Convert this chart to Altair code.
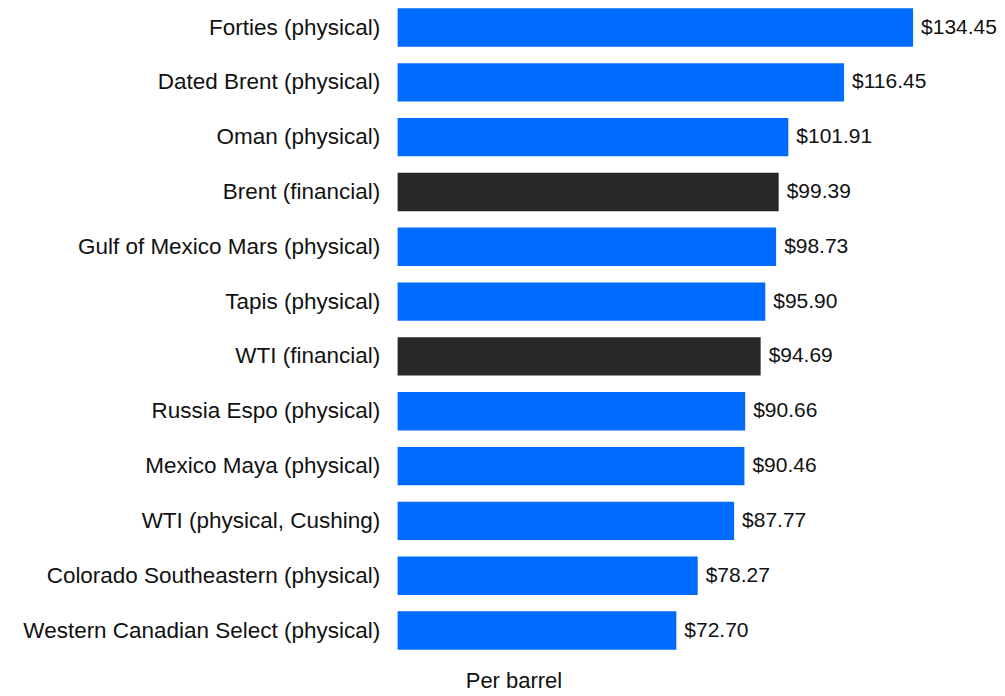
import altair as alt
import pandas as pd

names = [
    "Forties (physical)",
    "Dated Brent (physical)",
    "Oman (physical)",
    "Brent (financial)",
    "Gulf of Mexico Mars (physical)",
    "Tapis (physical)",
    "WTI (financial)",
    "Russia Espo (physical)",
    "Mexico Maya (physical)",
    "WTI (physical, Cushing)",
    "Colorado Southeastern (physical)",
    "Western Canadian Select (physical)",
]
prices = [134.45, 116.45, 101.91, 99.39, 98.73, 95.90, 94.69, 90.66, 90.46, 87.77, 78.27, 72.70]
kinds = ["physical", "physical", "physical", "financial", "physical", "physical",
         "financial", "physical", "physical", "physical", "physical", "physical"]

df = pd.DataFrame({"name": names, "price": prices, "kind": kinds})
df["label"] = df["price"].map(lambda v: f"${v:.2f}")

FONT = "Liberation Sans"
W = 520
xmax = 134.45 * W / 516.0

y = alt.Y("name:N", sort=names, title=None,
          scale=alt.Scale(paddingInner=0.30, paddingOuter=0),
          axis=alt.Axis(domain=False, ticks=False, labelFont=FONT, labelFontSize=22.5,
                        labelColor="#111111", labelPadding=18, labelLimit=400,
                        minExtent=390))
x = alt.X("price:Q", scale=alt.Scale(domain=[0, xmax], nice=False, zero=True),
          axis=alt.Axis(domain=False, ticks=False, labels=False, grid=False,
                        title="Per barrel", titleFont=FONT, titleFontSize=22,
                        titleFontWeight="normal", titleColor="#111111",
                        titleAlign="center", titleX=116, titleY=31,
                        titleBaseline="middle"))

bars = alt.Chart(df).mark_bar().encode(
    x=x, y=y,
    color=alt.Color("kind:N", scale=alt.Scale(domain=["physical", "financial"],
                                              range=["#006cff", "#282828"]), legend=None),
)
text = alt.Chart(df).mark_text(align="left", baseline="middle", dx=8, font=FONT,
                               fontSize=21, color="#111111").encode(
    x="price:Q", y=alt.Y("name:N", sort=names), text="label:N")

chart = (bars + text).properties(width=W, height=642).configure(
    padding=0, background="white").configure_view(strokeWidth=0, stroke=None)

chart.save("out.html", embed_options={"renderer": "svg", "actions": False})
